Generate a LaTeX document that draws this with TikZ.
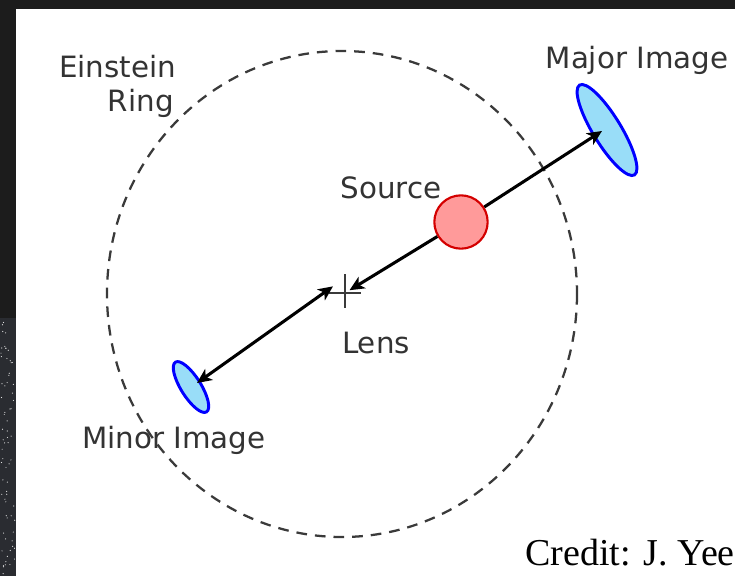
\documentclass[tikz,border=0pt]{standalone}
\usepackage{fontspec}
\setmainfont{DejaVu Sans}
\newfontfamily\creditfont{Liberation Serif}
\usetikzlibrary{arrows.meta,shapes.geometric}
\definecolor{bgdark}{HTML}{1C1C1C}
\definecolor{skydark}{HTML}{2A2C31}
\definecolor{labelgray}{HTML}{333333}
\definecolor{ringgray}{HTML}{3A3A3A}
\definecolor{srcred}{HTML}{D40000}
\definecolor{srcfill}{HTML}{FF9A9A}
\definecolor{imgblue}{HTML}{0000FF}
\definecolor{imgfill}{HTML}{99DDF8}

\begin{document}
\begin{tikzpicture}[x=0.75pt,y=-0.75pt,
  lbl/.style={text=labelgray,font=\fontsize{22}{26}\selectfont,inner sep=0pt},
  img/.style={ellipse,draw=imgblue,fill=imgfill,line width=2.2pt,inner sep=0pt},
  tip/.style={Stealth[length=11pt,width=10pt,inset=3pt]},
  ray/.style={line width=2.3pt,-{Stealth[length=11pt,width=10pt,inset=3pt]}}]
\useasboundingbox (0,0) rectangle (735,576);
% background and panel
\fill[bgdark] (0,0) rectangle (735,576);
\fill[skydark] (0,318) rectangle (16,576);
\pgfmathsetseed{7}
\foreach \i in {1,...,70} \fill[white!75!gray] ({1+14*rnd},{320+254*rnd}) circle (0.6);
\fill[white] (16,9) rectangle (735,576);
% positions
\coordinate (ringc) at (342,294);
\coordinate (lens) at (345,293);
\coordinate (majtip) at (602,131);
\coordinate (mintip) at (197,383);
% Einstein ring
\draw[ringgray,line width=1.7pt,dash pattern=on 8pt off 6pt] (ringc) ellipse [x radius=235, y radius=243];
% lens cross
\draw[ringgray,line width=0.8pt] ([xshift=-12]lens) -- ([xshift=12]lens) ([yshift=-11]lens) -- ([yshift=14]lens);
% source and images
\node[circle,draw=srcred,fill=srcfill,line width=1.6pt,minimum size=40pt,inner sep=0pt] (src) at (461,222) {};
\node[img,minimum width=79pt,minimum height=21pt,rotate=-58.6] (maj) at (607,130) {};
\node[img,minimum width=44pt,minimum height=15pt,rotate=-58] (min) at (191,387) {};
% rays
\draw[ray] (src) -- (majtip);
\draw[ray,shorten >=4pt] (src) -- (lens);
\draw[line width=2.3pt,{Stealth[length=11pt,width=10pt,inset=3pt]}-{Stealth[length=11pt,width=10pt,inset=3pt]}] (mintip) -- ([xshift=-9,yshift=5]lens);
% labels
\node[lbl,anchor=base west] (einst) at (59,77) {Einstein};
\node[lbl,anchor=base east] (ring) at (174,111) {Ring};
\node[lbl,anchor=base] (majlbl) at (637,68) {Major Image};
\node[lbl,anchor=base] (srclbl) at (391,198) {Source};
\node[lbl,anchor=base] (lenslbl) at (376,353) {Lens};
\node[lbl,anchor=base] (minlbl) at (174,448) {Minor Image};
\node[anchor=base east,inner sep=0pt,font=\creditfont\fontsize{28.5}{30}\selectfont] (credit) at (735,565) {Credit: J. Yee};
\end{tikzpicture}
\end{document}
